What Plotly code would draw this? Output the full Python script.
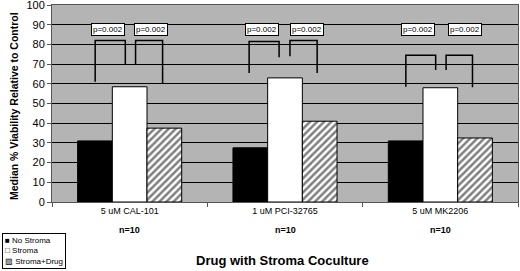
import plotly.graph_objects as go

categories = ["5 uM CAL-101", "1 uM PCI-32765", "5 uM MK2206"]
no_stroma = [31, 27.5, 31]
stroma = [58.5, 63, 58]
stroma_drug = [37.5, 41, 32.5]
n_labels = ["n=10", "n=10", "n=10"]
p_labels = ["p=0.002"] * 6

# brackets: (x_left, x_right, y_left_end, y_top, y_right_end)
brackets = [
    (-0.222, -0.028, 61, 82, 69.5), (0.038, 0.212, 69.5, 82, 60),
    (0.769, 0.962, 65.5, 81.5, 73.5), (1.032, 1.207, 74, 82, 65.5),
    (1.778, 1.970, 58.5, 74.5, 67), (2.037, 2.207, 67, 74.5, 58.2),
]
p_x = [-0.138, 0.138, 0.855, 1.143, 1.859, 2.157]
p_y = 87.5

W, H = 520, 271
L, R, T, B = 52, 2, 5, 69
pw, ph = W - L - R, H - T - B


def px_x(x):
    return (x - L) / pw


def px_y(y):
    return (H - B - y) / ph


fig = go.Figure()
fig.add_bar(x=categories, y=no_stroma, name="No Stroma",
            marker=dict(color="black", line=dict(color="black", width=1)))
fig.add_bar(x=categories, y=stroma, name="Stroma",
            marker=dict(color="white", line=dict(color="black", width=1)))
fig.add_bar(x=categories, y=stroma_drug, name="Stroma+Drug",
            marker=dict(color="white", line=dict(color="black", width=1),
                        pattern=dict(shape="/", fgcolor="black", bgcolor="white",
                                     size=5, solidity=0.5)))

for (x0, x1, yl, yt, yr) in brackets:
    fig.add_shape(type="path",
                  path=f"M {x0} {yl} L {x0} {yt} L {x1} {yt} L {x1} {yr}",
                  xref="x", yref="y", line=dict(color="black", width=1.5))

for px, t in zip(p_x, p_labels):
    fig.add_annotation(x=px, y=p_y, xref="x", yref="y", text=t, showarrow=False,
                       font=dict(size=8, color="black", family="Arial"),
                       bgcolor="white", bordercolor="black", borderwidth=1, borderpad=1)

for i, t in enumerate(n_labels):
    fig.add_annotation(x=i, y=px_y(237), xref="x", yref="paper", text=f"<b>{t}</b>",
                       showarrow=False, font=dict(size=9, color="black", family="Arial"))

fig.add_annotation(x=px_x(282), y=px_y(260), xref="paper", yref="paper",
                   text="<b>Drug with Stroma Coculture</b>", showarrow=False,
                   yanchor="middle",
                   font=dict(size=13, color="black", family="Arial"))

fig.add_annotation(x=px_x(14), y=px_y(106), xref="paper", yref="paper",
                   xanchor="center", yanchor="middle",
                   text="<b>Median % Viability Relative to Control</b>",
                   textangle=-90, showarrow=False,
                   font=dict(size=10.5, color="black", family="Arial"))

fig.add_annotation(x=px_x(2), y=px_y(233), xref="paper", yref="paper",
                   xanchor="left", yanchor="top", align="left",
                   text="■ No Stroma<br>□ Stroma<br>▨ Stroma+Drug",
                   showarrow=False, bgcolor="white", bordercolor="black", borderwidth=1,
                   borderpad=2,
                   font=dict(size=8, color="black", family="Arial"))

fig.update_layout(
    width=W, height=H,
    margin=dict(l=L, r=R, t=T, b=B, autoexpand=False),
    paper_bgcolor="white", plot_bgcolor="#b4b4b4",
    barmode="group", bargap=0.33, bargroupgap=0,
    showlegend=False,
    font=dict(family="Arial", color="black"),
)
fig.update_xaxes(type="category", tickson="boundaries", ticks="outside", ticklen=4,
                 tickcolor="#555", tickfont=dict(size=9), automargin=False,
                 showline=True, linecolor="#555", mirror=True, showgrid=False)
fig.update_yaxes(range=[0, 100], dtick=10, ticks="outside", ticklen=4, tickcolor="#555",
                 tickfont=dict(size=11), showgrid=True, gridcolor="black", gridwidth=1,
                 automargin=False, ticklabeloverflow="allow",
                 showline=True, linecolor="#555", mirror=True, zeroline=False)

fig.write_html("out.html", config={"displayModeBar": False},
               post_script="document.body.style.margin='0';document.body.style.overflow='hidden';")
